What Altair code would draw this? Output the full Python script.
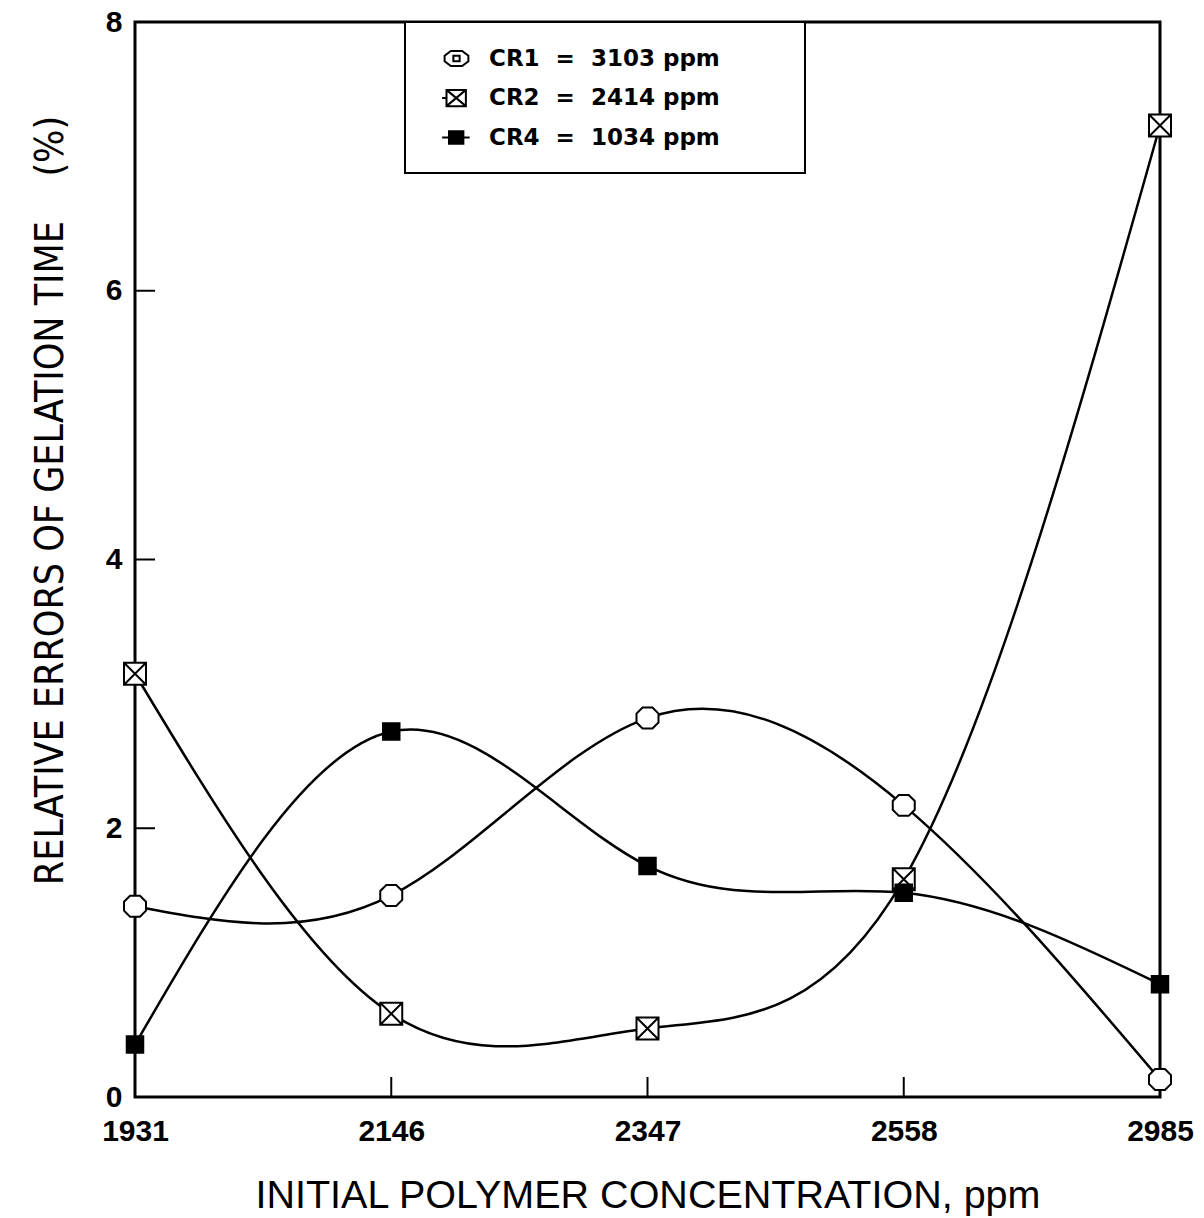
import altair as alt
import pandas as pd

# Relative errors of gelation time (%) versus initial polymer concentration
concentrations = ["1931", "2146", "2347", "2558", "2985"]
series_names = ["CR1 = 3103 ppm", "CR2 = 2414 ppm", "CR4 = 1034 ppm"]
cr1_errors = [1.42, 1.50, 2.82, 2.17, 0.13]
cr2_errors = [3.15, 0.62, 0.51, 1.62, 7.23]
cr4_errors = [0.39, 2.72, 1.72, 1.52, 0.84]

y_tick_values = [0, 2, 4, 6, 8]
inner_y_ticks = [2, 4, 6]
inner_x_ticks = ["2146", "2347", "2558"]

# marker outlines: octagon, square with a cross, solid square
octagon = "M-0.45,-0.95L0.45,-0.95L1,-0.4L1,0.4L0.45,0.95L-0.45,0.95L-1,0.4L-1,-0.4Z"
crossed_box = "M-1,-1L1,-1L1,1L-1,1Z M-1,-1L1,1 M1,-1L-1,1"
solid_box = "M-0.75,-0.75L0.75,-0.75L0.75,0.75L-0.75,0.75Z"
plot_shapes = [octagon, crossed_box, solid_box]

# legend glyphs (shifted right, with line stubs)
legend_eye = ("M0.75,-0.6L1.65,-0.6L2.15,-0.22L2.15,0.22L1.65,0.6L0.75,0.6L0.25,0.22L0.25,-0.22Z "
              "M0.95,-0.22L1.45,-0.22L1.45,0.22L0.95,0.22Z")
legend_box = "M0.4,-0.65L1.95,-0.65L1.95,0.65L0.4,0.65Z M0.4,-0.65L1.95,0.65 M1.95,-0.65L0.4,0.65 M0.05,0L0.4,0"
legend_solid = "M0.05,0L0.6,0 M0.6,-0.5L1.75,-0.5L1.75,0.5L0.6,0.5Z M1.75,0L2.25,0"
legend_shapes = [legend_eye, legend_box, legend_solid]
fills = ["white", "white", "black"]
outlines = ["black", "black", "black"]

rows = []
for name, vals in zip(series_names, [cr1_errors, cr2_errors, cr4_errors]):
    for c, v in zip(concentrations, vals):
        rows.append({"conc": c, "error": v, "series": name})
df = pd.DataFrame(rows)

W, H = 1025, 1075
TICK_FONT = "Liberation Sans"

x_enc = alt.X(
    "conc:O",
    sort=concentrations,
    scale=alt.Scale(type="point", padding=0, domain=concentrations),
    axis=alt.Axis(
        title="INITIAL POLYMER CONCENTRATION, ppm",
        labelAngle=0,
        domain=False,
        ticks=False,
        grid=False,
        labelFont=TICK_FONT,
        labelFontWeight="bold",
        labelFontSize=30,
        labelColor="black",
        labelPadding=19,
        titleFont="Liberation Sans",
        titleFontWeight="normal",
        titleFontSize=39.5,
        titleColor="black",
        titlePadding=30,
    ),
)

y_enc = alt.Y(
    "error:Q",
    scale=alt.Scale(domain=[0, 8], nice=False, zero=True),
    axis=alt.Axis(
        title="RELATIVE ERRORS OF GELATION TIME\u00a0\u00a0\u00a0\u00a0(%)",
        values=y_tick_values,
        domain=False,
        ticks=False,
        grid=False,
        labelFont=TICK_FONT,
        labelFontWeight="bold",
        labelFontSize=30,
        labelColor="black",
        labelPadding=13,
        titleFont="Liberation Sans Narrow, DejaVu Sans Condensed, Liberation Sans",
        titleFontWeight="normal",
        titleFontSize=39,
        titleColor="black",
        titlePadding=35,
        titleY=478,
    ),
)

base = alt.Chart(df)

curves = base.mark_line(interpolate="natural", color="black", strokeWidth=2.5).encode(
    x=x_enc, y=y_enc, detail="series:N"
)

markers = base.mark_point(filled=True, opacity=1, stroke="black", strokeWidth=2).encode(
    x=x_enc,
    y=y_enc,
    shape=alt.Shape("series:N", scale=alt.Scale(domain=series_names, range=plot_shapes), legend=None),
    fill=alt.Fill("series:N", scale=alt.Scale(domain=series_names, range=fills), legend=None),
    size=alt.value(484),
)

legend_props = dict(
    title=None,
    orient="none",
    legendX=270,
    legendY=0,
    direction="vertical",
    fillColor="white",
    strokeColor="black",
    padding=23,
    rowPadding=13.5,
    symbolSize=625,
    symbolStrokeWidth=2,
    labelFont="DejaVu Sans",
    labelFontWeight="bold",
    labelFontSize=23,
    labelColor="black",
    labelOffset=34,
    labelLimit=600,
    labelExpr="replace(datum.label, ' = ', ' \u00a0=\u00a0 ') + '\u00a0\u2800\u2800\u2800'",
)

legend_layer = base.transform_filter("false").mark_point(
    filled=False, opacity=1, strokeWidth=2
).encode(
    x=x_enc,
    y=y_enc,
    shape=alt.Shape("series:N", scale=alt.Scale(domain=series_names, range=legend_shapes),
                    legend=alt.Legend(**legend_props)),
    fill=alt.Fill("series:N", scale=alt.Scale(domain=series_names, range=fills),
                  legend=alt.Legend(**legend_props)),
    stroke=alt.Stroke("series:N", scale=alt.Scale(domain=series_names, range=outlines),
                      legend=alt.Legend(**legend_props)),
)

# inward tick marks
y_ticks = alt.Chart(pd.DataFrame({"error": inner_y_ticks})).mark_rule(
    color="black", strokeWidth=2
).encode(y=y_enc, x=alt.value(0), x2=alt.value(20))

x_ticks = alt.Chart(pd.DataFrame({"conc": inner_x_ticks})).mark_rule(
    color="black", strokeWidth=2
).encode(x=x_enc, y=alt.value(H), y2=alt.value(H - 20))

chart = (
    alt.layer(y_ticks, x_ticks, curves, markers, legend_layer)
    .resolve_scale(shape="independent", fill="independent", stroke="independent")
    .properties(
        width=W,
        height=H,
        autosize=alt.AutoSizeParams(type="none"),
        padding={"left": 135, "top": 22, "right": 44, "bottom": 121},
        background="white",
    )
    .configure_view(stroke="black", strokeWidth=3)
    .configure_legend(strokeWidth=2)
)

chart.save("out.html", embed_options={"renderer": "svg", "actions": False})
